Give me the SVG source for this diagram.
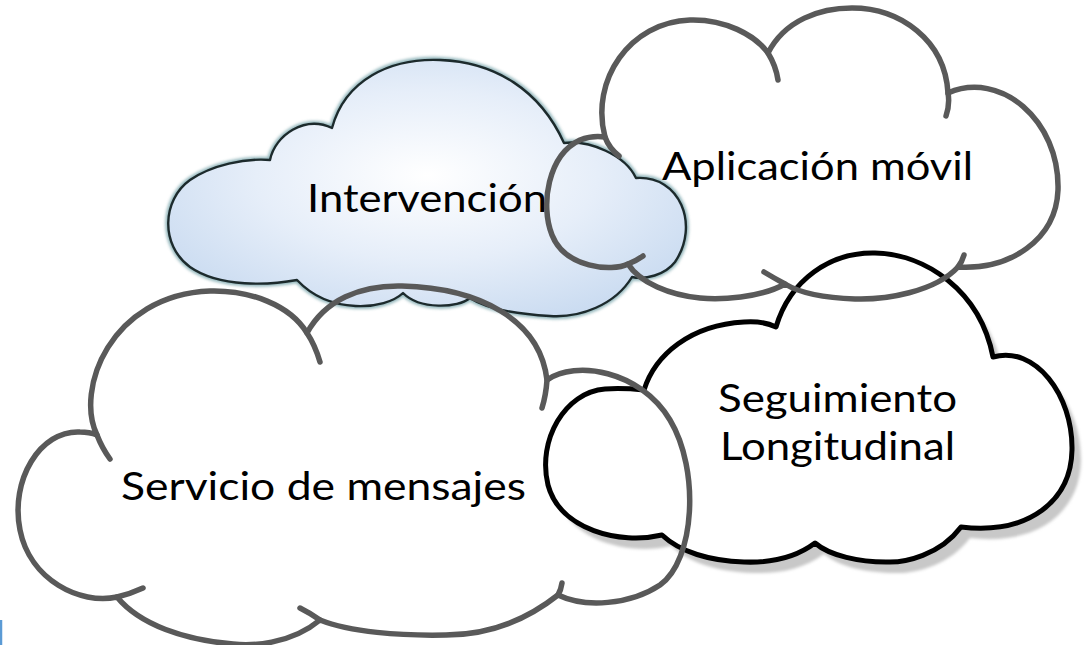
<svg xmlns="http://www.w3.org/2000/svg" width="1089" height="645" viewBox="0 0 1089 645">
  <defs>
    <radialGradient id="skyFill" cx="0.5" cy="0.45" r="0.6">
      <stop offset="0" stop-color="#ffffff"/>
      <stop offset="0.55" stop-color="#e6eef9"/>
      <stop offset="1" stop-color="#cbdcf1"/>
    </radialGradient>
    <filter id="halo" x="-10%" y="-10%" width="120%" height="120%">
      <feGaussianBlur stdDeviation="1.6"/>
    </filter>
    <filter id="soft" x="-10%" y="-10%" width="120%" height="120%">
      <feGaussianBlur stdDeviation="1.5"/>
    </filter>
    <path id="skyShape" d="M 270,160 C 275,135 305,115 332,128 C 345,80 390,58 440,60 C 495,62 540,90 564,143 C 590,140 625,155 636,178 C 680,175 700,225 675,262 C 665,275 645,280 632,277 C 615,305 580,318 550,316 C 515,314 485,308 470,298 C 458,308 420,310 403,293 C 385,310 330,315 297,280 C 270,285 220,288 190,267 C 160,245 162,200 190,180 C 212,165 245,158 270,160 Z"/>
    <path id="segShape" d="M 644,390 C 655,355 690,325 744,322 C 758,321 768,323 776,327 C 790,280 830,252 875,253 C 925,254 980,290 993,357 C 1035,345 1073,395 1072,450 C 1071,500 1030,535 961,527 C 940,555 905,563 886,562 C 860,562 830,556 815,543 C 795,558 770,563 744,562 C 710,561 680,552 662,535 C 620,545 560,530 548,485 C 537,440 565,392 605,389 C 620,388 634,389 644,390 Z"/>
  </defs>
  <style>
    .label { font-family: Lato, "Open Sans", "Liberation Sans", sans-serif; font-size: 39px; fill: #000000; }
    .gray { fill: none; stroke: #595959; stroke-width: 5.5; stroke-linecap: round; stroke-linejoin: round; }
    .black { fill: #ffffff; stroke: #000000; stroke-width: 5; stroke-linejoin: round; }
    .shadow { fill: #c8c8c8; stroke: none; }
    .sky { fill: url(#skyFill); stroke: #1c2a2c; stroke-width: 2.4; stroke-linejoin: round; }
    .skyHalo { fill: none; stroke: #6f9fa6; stroke-width: 6; opacity: 0.75; }
  </style>
  <rect width="1089" height="645" fill="#ffffff"/>

  <g id="node-intervencion">
    <use href="#skyShape" class="skyHalo" filter="url(#halo)"/>
    <use href="#skyShape" class="sky"/>
    <text class="label" x="307" y="212" textLength="240" lengthAdjust="spacingAndGlyphs">Intervención</text>
  </g>

  <g id="node-seguimiento">
    <use href="#segShape" class="shadow" filter="url(#soft)" transform="translate(9,11)"/>
    <use href="#segShape" class="black"/>
    <text class="label" x="718" y="412" textLength="239" lengthAdjust="spacingAndGlyphs">Seguimiento</text>
    <text class="label" x="720" y="460" textLength="235" lengthAdjust="spacingAndGlyphs">Longitudinal</text>
  </g>

  <g id="node-aplicacion">
    <path class="gray" d="M 605,137 C 590,80 630,22 690,20 C 725,19 755,35 768,53 C 785,20 820,8 852,8 C 900,8 945,40 948,93 C 1000,70 1060,120 1058,190 C 1056,240 1010,270 958,267 C 935,292 885,300 855,299 C 825,298 800,293 785,284 C 760,298 720,300 700,298 C 670,295 640,283 628,264 C 612,272 565,268 552,235 C 540,205 548,155 580,140 C 590,136 598,136 605,137 Z"/>
    <path class="gray" d="M 605,137 Q 609,148 619,156 M 768,53 Q 776,66 778,80 M 948,93 Q 950,104 946,116 M 958,267 Q 962,262 964,255 M 785,284 Q 774,278 764,272 M 628,264 Q 636,261 643,256"/>
    <text class="label" x="662" y="180" textLength="311" lengthAdjust="spacingAndGlyphs">Aplicación móvil</text>
  </g>

  <g id="node-servicio">
    <path class="gray" d="M 97,435 C 75,390 110,295 210,291 C 250,290 290,305 307,333 C 325,300 360,285 402,286 C 480,288 540,320 547,380 C 575,360 640,370 670,420 C 700,470 695,560 660,585 C 630,605 585,608 558,595 C 520,625 480,635 446,635 C 400,636 350,632 320,620 C 290,645 250,646 233,644 C 185,640 140,625 117,597 C 80,605 30,580 20,530 C 10,480 40,430 80,432 C 87,432 92,433 97,435 Z"/>
    <path class="gray" d="M 97,435 Q 102,448 110,459 M 307,333 Q 315,345 320,362 M 547,380 Q 546,395 542,408 M 558,595 Q 561,590 562,583 M 320,620 Q 310,613 300,608 M 117,597 Q 130,594 143,588"/>
    <text class="label" x="121" y="500" textLength="405" lengthAdjust="spacingAndGlyphs">Servicio de mensajes</text>
  </g>

  <g id="connectors"></g>

  <path d="M 1,620 L 1,645" stroke="#5b9bd5" stroke-width="2.5" fill="none"/>
</svg>
